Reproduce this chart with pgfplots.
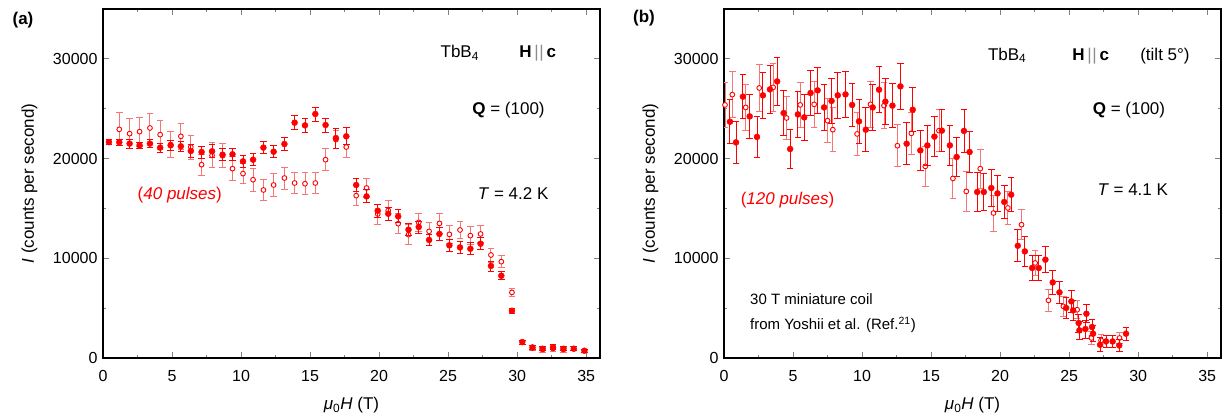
\documentclass[border=0pt]{standalone}
\usepackage{fontspec}
\setmainfont{Liberation Sans}
\usepackage{pgfplots}
\usepackage{pgfplotstable}
\pgfplotsset{compat=1.18}
\definecolor{fred}{RGB}{255,0,0}
\definecolor{barred}{RGB}{246,118,118}

\newcommand{\Hc}{\textbf{H}\,\textcolor{black!45}{|\kern0.5pt|}\,\textbf{c}}

% panel (a), open symbols
\pgfplotstableread{
x y e
1.18 22930 1650
1.93 22500 1500
2.65 22700 1450
3.40 23070 1420
4.14 22400 1450
4.90 21400 1300
5.64 22230 1330
6.36 21160 1200
7.14 19390 1050
7.90 20320 1250
8.66 20290 1200
9.38 18990 1220
10.14 18490 1000
10.87 17880 1170
11.62 16850 1050
12.36 17350 1130
13.14 18050 1100
13.88 17550 1080
14.63 17480 1100
15.38 17550 1080
16.12 19890 1120
16.87 21900 900
17.62 21160 1080
18.34 16280 1000
19.09 17050 950
19.90 14440 1000
20.66 14800 1000
21.38 13470 1000
22.13 12370 1000
22.87 13600 900
23.62 12700 900
24.37 13500 1000
25.09 12400 900
25.86 12840 900
26.61 12270 900
27.35 12440 900
28.10 10330 700
28.85 9660 600
29.62 6580 400
31.11 1000 250
31.84 850 250
32.60 950 300
33.35 850 250
}\openA

% panel (a), filled symbols
\pgfplotstableread{
x y e
0.43 21650 270
1.18 21630 330
1.93 21500 450
2.65 21330 330
3.40 21500 400
4.14 21100 450
4.90 21330 500
5.64 21230 500
6.36 20760 650
7.14 20660 600
7.90 20730 650
8.66 20390 600
9.38 20430 600
10.14 19720 600
10.87 19890 600
11.62 21100 600
12.36 20690 600
13.14 21460 650
13.88 23600 700
14.63 23330 700
15.38 24470 700
16.12 23370 700
16.87 22060 1000
17.62 22230 850
18.34 17350 650
19.09 16210 650
19.90 14770 650
20.66 14470 650
21.38 14200 650
22.13 12870 600
22.87 13140 600
23.62 11840 600
24.37 12440 650
25.09 11300 600
25.86 11090 600
26.61 10960 600
27.35 11460 600
28.10 9230 500
28.85 8250 400
29.62 4740 250
30.37 1600 200
31.11 1060 200
31.84 930 200
32.60 1060 250
33.35 930 200
34.10 930 200
34.87 730 150
}\fullA

% panel (b), open symbols
\pgfplotstableread{
x y e
0.07 25380 2300
0.60 26410 2300
1.57 25130 2300
2.55 27080 2400
3.56 27140 2400
4.53 24070 2200
5.52 25380 2300
6.53 25440 2300
7.50 23800 2200
7.88 22900 2200
9.64 22470 2200
10.61 25440 2300
11.59 25310 2300
12.56 21290 2100
13.57 22530 2100
14.58 19220 2000
15.57 22800 2100
16.58 18010 2000
17.55 16710 2000
18.56 18990 1950
19.52 14540 1800
20.56 15050 1700
21.55 13370 1500
22.54 9530 1300
23.50 5780 1100
24.58 5180 1000
25.58 4840 900
26.61 2010 700
27.31 1770 600
28.65 2010 570
}\openB

% panel (b), filled symbols
\pgfplotstableread{
x y e
0.43 23700 2200
0.87 21620 2100
1.37 26210 2200
1.86 24230 2200
2.39 22170 2100
2.82 26340 2300
3.33 26940 2400
3.85 27740 2400
4.32 24570 2300
4.79 20960 2000
5.35 24430 2300
5.81 24130 2300
6.27 26580 2300
6.78 26840 2300
7.25 25130 2300
7.79 25780 2300
8.24 26340 2300
8.80 26440 2300
9.28 25380 2200
9.78 23730 2200
10.27 22900 2200
10.77 25130 2300
11.23 26910 2300
11.69 25710 2300
12.20 25310 2200
12.78 27240 2300
13.23 21490 2100
13.67 24900 2200
14.22 20820 2000
14.73 21320 2000
15.24 22200 2000
15.78 22800 2100
16.36 21320 2000
16.85 20160 2000
17.38 22770 2200
17.79 20660 2100
18.34 16650 2000
18.82 16650 1900
19.36 17050 1900
19.81 16510 1800
20.30 15650 1700
20.80 16380 1700
21.28 11260 1600
21.79 10690 1500
22.32 9030 1300
22.80 9030 1300
23.28 9860 1300
23.81 7580 1200
24.30 6580 1100
24.78 5020 1100
25.16 5680 1100
25.29 4770 1000
25.69 3510 900
25.74 2770 900
26.18 2910 900
26.25 4440 900
26.66 3110 800
26.73 2440 800
27.24 1330 700
27.67 1660 650
28.15 1660 650
28.63 1260 650
29.12 2440 650
}\fullB

\tikzset{
  ann/.style={anchor=base west, font=\fontsize{17}{20}\selectfont},
  small/.style={anchor=base west, font=\fontsize{15}{18}\selectfont},
}

\pgfplotsset{
  panel/.style={
    scale only axis, width=497pt, height=349pt, anchor=south west,
    xmin=0, xmax=36, ymin=0, ymax=35000,
    xtick={0,5,...,35}, minor x tick num=1,
    ytick={0,10000,20000,30000}, minor y tick num=1,
    scaled y ticks=false,
    tick align=inside, major tick length=6pt, minor tick length=3pt,
    axis line style={line width=1.1pt},
    tick style={line width=0.9pt},
    ticklabel style={font=\fontsize{16}{18}\selectfont},
    /pgf/number format/assume math mode=true,
    /pgf/number format/1000 sep={},
    xticklabel style={yshift=-9pt},
    yticklabel style={xshift=-2pt},
    label style={font=\fontsize{17}{20}\selectfont},
    xlabel={\textit{μ}\textsubscript{0}\textit{H} (T)},
    ylabel={\textit{I} (counts per second)},
    xlabel style={at={(axis description cs:0.5,-0.135)}, anchor=center},
    ylabel style={at={(axis description cs:-0.148,0.5)}, anchor=center},
    clip mode=individual,
  },
  filled/.style={only marks, mark=*, mark size=3pt, color=fred,
    error bars/y dir=both, error bars/y explicit,
    error bars/error bar style={line width=0.9pt},
    error bars/error mark options={rotate=90, mark size=3.3pt, line width=0.9pt}},
  open/.style={only marks, mark=*, mark size=2.4pt, color=barred,
    mark options={fill=white, draw=fred, line width=0.9pt},
    error bars/y dir=both, error bars/y explicit,
    error bars/error bar style={line width=0.9pt},
    error bars/error mark options={rotate=90, mark size=3.3pt, line width=0.9pt}},
}

\begin{document}
\begin{tikzpicture}
\path[use as bounding box] (0,0) rectangle (1222pt,416pt);

% ---------- panel (a) ----------
\begin{axis}[panel, at={(103pt,58pt)}]
\addplot[open] table[x=x, y=y, y error=e] {\openA};
\addplot[filled] table[x=x, y=y, y error=e] {\fullA};
\node[ann] at (axis cs:24.2,30100) {TbB\textsubscript{4}};
\node[ann] at (axis cs:29.9,30100) {\Hc};
\node[ann] at (axis cs:26.5,24400) {\textbf{Q} = (100)};
\node[ann] at (axis cs:26.9,15880) {\textit{T} = 4.2 K};
\node[ann, text=fred] at (axis cs:2.26,15880) {(\textit{40 pulses})};
\end{axis}

% ---------- panel (b) ----------
\begin{axis}[panel, at={(724pt,58pt)}]
\addplot[open] table[x=x, y=y, y error=e] {\openB};
\addplot[filled] table[x=x, y=y, y error=e] {\fullB};
\node[ann] at (axis cs:18.87,29870) {TbB\textsubscript{4}};
\node[ann] at (axis cs:24.97,29870) {\Hc};
\node[ann] at (axis cs:29.9,29870) {(tilt 5°)};
\node[ann] at (axis cs:26.46,24400) {\textbf{Q} = (100)};
\node[ann] at (axis cs:26.8,16280) {\textit{T} = 4.1 K};
\node[ann, text=fred] at (axis cs:0.96,15380) {(\textit{120 pulses})};
\node[small] at (axis cs:1.64,5350) {30 T miniature coil};
\node[small] at (axis cs:1.64,2840) {from Yoshii et al. (Ref.\textsuperscript{21})};
\end{axis}

\node[font=\bfseries\fontsize{17}{20}\selectfont] at (23pt,396pt) {(a)};
\node[font=\bfseries\fontsize{17}{20}\selectfont] at (644pt,398pt) {(b)};
\end{tikzpicture}
\end{document}
